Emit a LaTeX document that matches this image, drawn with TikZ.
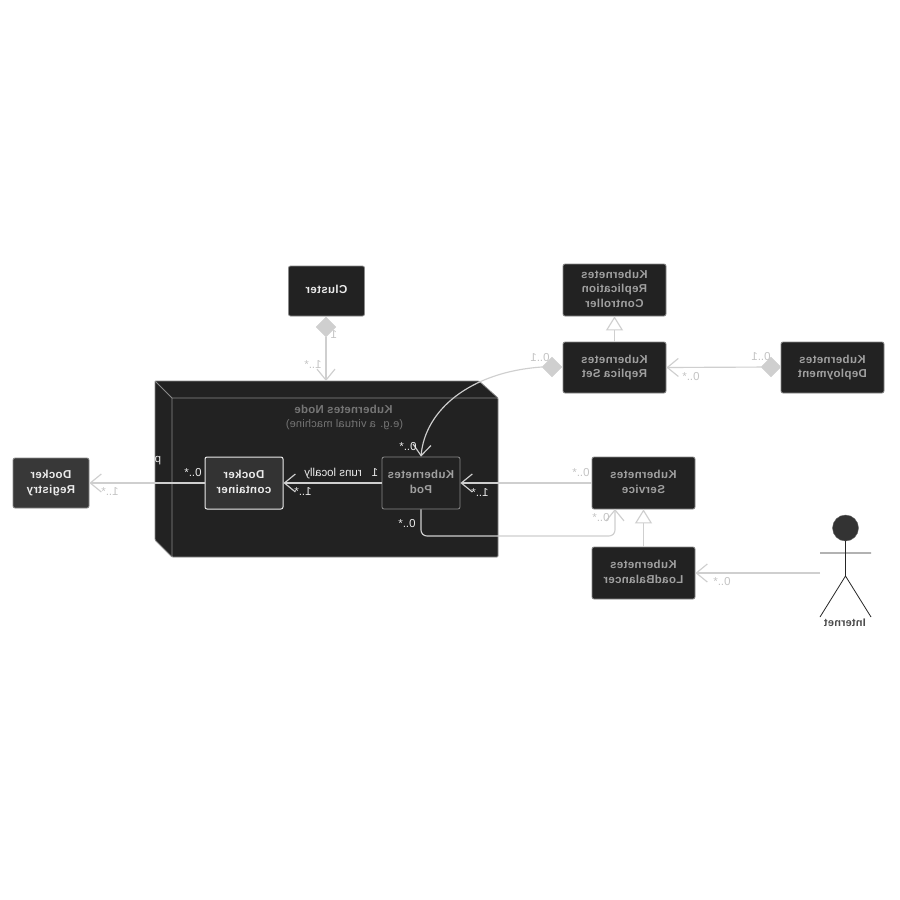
\documentclass[tikz,border=0pt]{standalone}
\usepackage{fontspec}
\setmainfont{Liberation Sans}
\usetikzlibrary{arrows.meta,shapes.geometric}
\definecolor{boxfill}{HTML}{222222}
\definecolor{boxline}{HTML}{8A8A8A}
\definecolor{nodetext}{HTML}{A0A0A0}
\definecolor{conn}{HTML}{CFCFCF}
\definecolor{faint}{HTML}{C4C4C4}
\newcommand{\mtext}[1]{\reflectbox{\begin{tabular}{@{}c@{}}#1\end{tabular}}}
\renewcommand{\arraystretch}{1.02}
\tikzset{
  x=1pt,y=-1pt,
  box/.style={draw=boxline,fill=boxfill,rounded corners=2pt,line width=.8pt,inner sep=0pt,
    text=nodetext,font=\fontsize{11.5}{14.5}\selectfont\addfontfeatures{LetterSpace=3}},
  wbox/.style={box,draw=white!92!black,fill=black!80,text=white!92!black,line width=1pt},
  lab/.style={inner sep=0pt,yshift=-1.5pt,font=\fontsize{11.5}{13}\selectfont,text=faint},
  inlab/.style={lab,text=white!92!black},
  link/.style={draw=conn,line width=1.15pt,rounded corners=6pt},
  arr/.style={link,-{Straight Barb[length=11pt,width=18pt,line width=1.15pt]}},
  gen/.style={link,-{Triangle[open,fill=white,length=14pt,width=17pt,line width=1.15pt]}},
  dia/.style={diamond,fill=conn,draw=conn,inner sep=0pt,minimum width=20pt,minimum height=20pt},
}
\begin{document}
\begin{tikzpicture}
\useasboundingbox[fill=white] (0,0) rectangle (900,900);
% 3D Kubernetes Node
\fill[boxfill,draw=boxline,line width=.8pt,rounded corners=1pt] (155,381) -- (479,381) -- (498,398) -- (498,557) -- (172,557) -- (155,540) -- cycle;
\draw[boxline,line width=.8pt] (155,381) -- (172,398) -- (498,398) (172,398) -- (172,557);
\node[lab,text=boxline!85!black,font=\fontsize{11.5}{13.5}\selectfont\bfseries\addfontfeatures{LetterSpace=2}] (nodetitle) at (343.5,409) {\mtext{Kubernetes Node}};
\node[lab,text=boxline!85!black,font=\fontsize{11}{13}\selectfont\addfontfeatures{LetterSpace=2}] (nodesub) at (344.5,423) {\mtext{(e.g. a virtual machine)}};
\node[inlab] (pchar) at (158,458) {\mtext{p}};
\coordinate (nodetop) at (326,381);
% Boxes
\node[box,text=white!92!black,minimum width=76pt,minimum height=50pt] (cluster) at (326.5,291) {\mtext{\bfseries Cluster}};
\node[box,minimum width=103pt,minimum height=52pt] (rc) at (614.5,290) {\mtext{\bfseries Kubernetes\\\bfseries Replication\\\bfseries Controller}};
\node[box,minimum width=103pt,minimum height=51pt] (rs) at (614.5,367.5) {\mtext{\bfseries Kubernetes\\\bfseries Replica Set}};
\node[box,minimum width=103pt,minimum height=51pt] (dep) at (832.5,367.5) {\mtext{\bfseries Kubernetes\\\bfseries Deployment}};
\node[box,minimum width=103pt,minimum height=52pt] (svc) at (643.5,483) {\mtext{\bfseries Kubernetes\\\bfseries Service}};
\node[box,minimum width=103pt,minimum height=52pt] (lb) at (643.5,573) {\mtext{\bfseries Kubernetes\\\bfseries LoadBalancer}};
\node[box,text=white!92!black,fill=black!78,minimum width=76pt,minimum height=50pt] (reg) at (51,483) {\mtext{\bfseries Docker\\\bfseries Registry}};
\node[wbox,minimum width=78pt,minimum height=52pt] (cont) at (244,483) {\mtext{\bfseries Docker\\\bfseries container}};
\node[box,minimum width=78pt,minimum height=52pt] (pod) at (421,483) {\mtext{\bfseries Kubernetes\\\bfseries Pod}};
% Diamonds
\node[dia] (d1) at (326,327) {};
\node[dia] (d2) at (552,367) {};
\node[dia] (d3) at (771,367) {};
% Actor
\coordinate (inet) at (820,573);
\node[circle,fill=black!80,draw=black!60,minimum size=26pt,inner sep=0pt] (head) at (845.5,528) {};
\draw[black!85,line width=.8pt] (head.south) -- (845.5,576) (820,553) -- (871,553) (820,617) -- (845.5,576) -- (871,617);
\node[lab,text=black!70,font=\fontsize{11}{13}\selectfont\bfseries\addfontfeatures{LetterSpace=2}] (inettext) at (845,622) {\mtext{Internet}};
% Connectors
\draw[arr] (d1) -- (nodetop);
\draw[arr] (d3) -- (rs.east);
\draw[gen] (rs.north) -- (rc.south);
\draw[gen] (lb.north) -- (svc.south);
\draw[arr] (svc.west) -- (pod.east);
\draw[arr] (pod.west) -- (cont.east);
\draw[arr] (cont.west) -- (reg.east);
\draw[arr] (inet) -- (lb.east);
\draw[arr] (d2.west) .. controls (470,372) and (425,410) .. (pod.north);
\coordinate (svcin) at (615,509);
\coordinate (bend) at (421,536);
\draw[arr] (pod.south) -- (bend) -- (bend -| svcin) -- (svcin);
% Labels
\node[lab] (l1) at (334,334) {\mtext{1}};
\node[lab] (l2) at (313,364) {\mtext{1..*}};
\node[lab] (l3) at (540,357) {\mtext{0..1}};
\node[lab] (l4) at (761,356) {\mtext{0..1}};
\node[lab] (l5) at (691,376) {\mtext{0..*}};
\node[lab] (l6) at (581,472) {\mtext{0..*}};
\node[inlab] (l7) at (480,492) {\mtext{1..*}};
\node[inlab] (l8) at (407,523) {\mtext{0..*}};
\node[inlab] (l9) at (408,446) {\mtext{0..*}};
\node[inlab] (l10) at (375,472) {\mtext{1}};
\node[inlab] (l11) at (333,472) {\mtext{runs locally}};
\node[inlab] (l12) at (303,491) {\mtext{1..*}};
\node[inlab] (l13) at (193,472) {\mtext{0..*}};
\node[lab] (l14) at (110,491) {\mtext{1..*}};
\node[lab] (l15) at (601,517) {\mtext{0..*}};
\node[lab] (l16) at (722,581) {\mtext{0..*}};
\end{tikzpicture}
\end{document}
